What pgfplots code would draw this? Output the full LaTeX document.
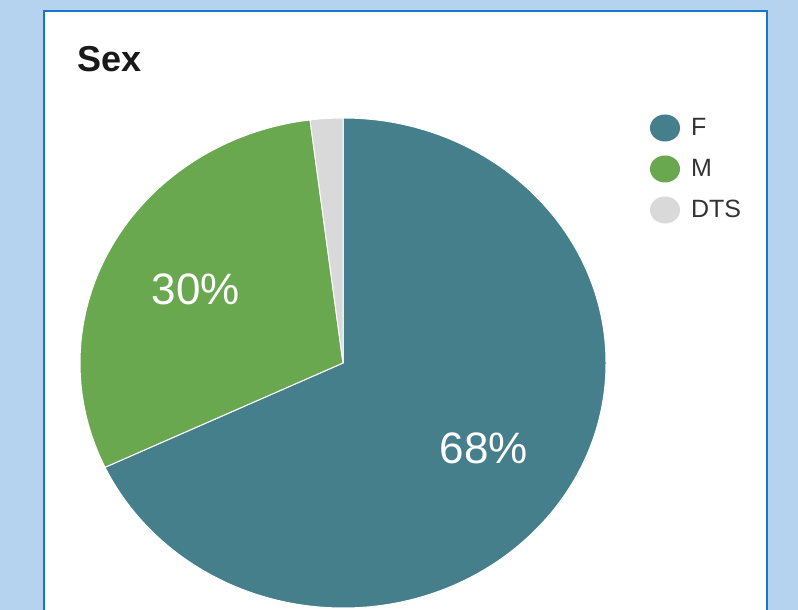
\documentclass[border=0pt]{standalone}
\usepackage{pgfplots}
\pgfplotsset{compat=1.18}
\usepackage{pgfplotstable}
\usepackage{fontspec}
\setmainfont{Liberation Sans}

\definecolor{bgblue}{HTML}{B5D3EE}
\definecolor{frameblue}{HTML}{1874CD}
\definecolor{fcol}{HTML}{447F8B}
\definecolor{mcol}{HTML}{6AA84F}
\definecolor{dcol}{HTML}{D9D9D9}

% share of respondents by sex (percent)
\pgfplotstableread{
name value
F 68
M 30
DTS 2
}\sexdata

\begin{document}
\begin{tikzpicture}
\pgfplotstablegetelem{0}{value}\of\sexdata \let\vF\pgfplotsretval
\pgfplotstablegetelem{1}{value}\of\sexdata \let\vM\pgfplotsretval
\pgfplotstablegetelem{2}{value}\of\sexdata \let\vD\pgfplotsretval
% slices run clockwise from 12 o'clock
\pgfmathsetmacro\aF{90-3.6*\vF}
\pgfmathsetmacro\aM{\aF-3.6*\vM}
\pgfmathsetmacro\aD{\aM-3.6*\vD}

\path[use as bounding box] (0,0) rectangle (798pt,610pt);
\fill[bgblue] (0,0) rectangle (798pt,610pt);
\begin{scope}
  \clip (0,0) rectangle (798pt,610pt);
  \filldraw[fill=white, draw=frameblue, line width=2pt] (44pt,-10pt) rectangle (767pt,599pt);
\end{scope}

\begin{axis}[
    hide axis,
    x=1pt, y=1pt,
    xmin=0, xmax=798,
    ymin=0, ymax=610,
    legend style={at={(axis cs:650,495.5)}, anchor=north west,
        draw=none, fill=none, inner sep=0pt, outer sep=0pt,
        row sep=14pt, font=\fontsize{25}{30}\selectfont, text=black!80,
        nodes={inner sep=0pt},
        /tikz/every odd column/.append style={column sep=11pt}},
    legend cell align=left,
    legend image code/.code={\fill[#1, draw=none] (0pt,0pt) ellipse[x radius=15pt, y radius=13.5pt];},
]
\addlegendimage{color=fcol}
\addlegendentry{F}
\addlegendimage{color=mcol}
\addlegendentry{M}
\addlegendimage{color=dcol}
\addlegendentry{DTS}

\fill[fcol, draw=white, line width=1pt] (axis cs:343,247) -- +(90:263pt and 245pt)
    arc[start angle=90, end angle=\aF, x radius=263pt, y radius=245pt] -- cycle;
\fill[mcol, draw=white, line width=1pt] (axis cs:343,247) -- +(\aF:263pt and 245pt)
    arc[start angle=\aF, end angle=\aM, x radius=263pt, y radius=245pt] -- cycle;
\fill[dcol, draw=white, line width=1pt] (axis cs:343,247) -- +(\aM:263pt and 245pt)
    arc[start angle=\aM, end angle=\aD, x radius=263pt, y radius=245pt] -- cycle;

\node[white, font=\fontsize{44}{50}\selectfont, inner sep=0pt] at (axis cs:484,162) {\vF\%};
\node[white, font=\fontsize{44}{50}\selectfont, inner sep=0pt] at (axis cs:196,321) {\vM\%};
\node[anchor=base west, inner sep=0pt, font=\bfseries\fontsize{36}{40}\selectfont, text=black!90] at (axis cs:77,538) {Sex};
\end{axis}
\end{tikzpicture}
\end{document}
